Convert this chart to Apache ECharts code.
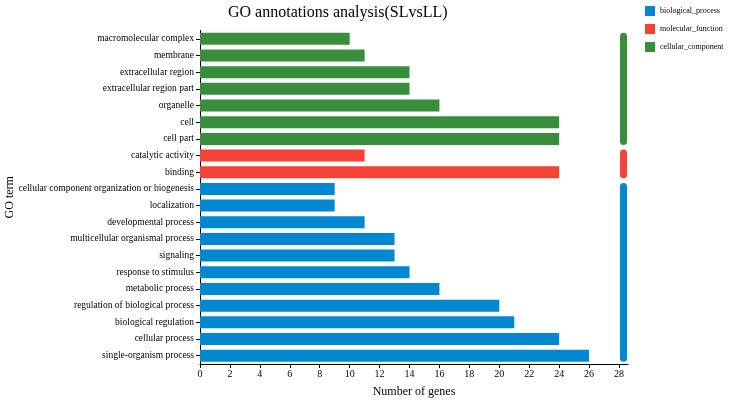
<!DOCTYPE html>
<html>
<head>
<meta charset="utf-8">
<script src="https://cdn.jsdelivr.net/npm/echarts@6/dist/echarts.min.js"></script>
<style>html,body{margin:0;padding:0;background:#fff}#c{width:729px;height:401px}</style>
</head>
<body>
<div id="c"></div>
<script>
// Categories, top to bottom
const categories = [
  'macromolecular complex', 'membrane', 'extracellular region', 'extracellular region part',
  'organelle', 'cell', 'cell part',
  'catalytic activity', 'binding',
  'cellular component organization or biogenesis', 'localization', 'developmental process',
  'multicellular organismal process', 'signaling', 'response to stimulus', 'metabolic process',
  'regulation of biological process', 'biological regulation', 'cellular process', 'single-organism process'
];
const geneCounts = [10, 11, 14, 14, 16, 24, 24, 11, 24, 9, 9, 11, 13, 13, 14, 16, 20, 21, 24, 26];
const groupNames = ['biological_process', 'molecular_function', 'cellular_component'];
const categoryGroup = [2,2,2,2,2,2,2, 1,1, 0,0,0,0,0,0,0,0,0,0,0];
const xTicks = [0, 2, 4, 6, 8, 10, 12, 14, 16, 18, 20, 22, 24, 26, 28];

const colors = ['#0288d1', '#f44336', '#388e3c'];
const FONT = 'Liberation Serif';
const GROUP_X = 28.3;
const BAR_RATIO = 0.72;

const barSeries = groupNames.map((g, gi) => ({
  name: g,
  type: 'bar',
  stack: 'all',
  barCategoryGap: '28%',
  itemStyle: { color: colors[gi] },
  data: geneCounts.map((v, i) => categoryGroup[i] === gi ? v : '-')
}));

// group ranges [groupIndex, startIdx, endIdx]
const groupRanges = groupNames.map((g, gi) => {
  const idx = categoryGroup.map((c, i) => c === gi ? i : -1).filter(i => i >= 0);
  return [gi, Math.min(...idx), Math.max(...idx)];
});

const chart = echarts.init(document.getElementById('c'));
chart.setOption({
  animation: false,
  color: colors,
  title: {
    text: 'GO annotations analysis(SLvsLL)',
    left: 223, top: 0,
    textStyle: { fontFamily: FONT, fontSize: 16, fontWeight: 'normal', color: '#000' }
  },
  legend: {
    data: groupNames,
    orient: 'vertical', left: 640, top: 1, width: 90,
    icon: 'rect', itemWidth: 10, itemHeight: 10, itemGap: 8,
    textStyle: { fontFamily: FONT, fontSize: 8, color: '#000', overflow: 'none' }
  },
  grid: { left: 200, right: 101, top: 30.5, bottom: 37, containLabel: false, outerBoundsMode: 'none' },
  xAxis: {
    type: 'value', min: 0, max: 28.6, interval: 2,
    name: 'Number of genes', nameLocation: 'middle', nameGap: 22, nameMoveOverlap: false,
    nameTextStyle: { fontFamily: FONT, fontSize: 12, color: '#000' },
    axisLine: { show: true, lineStyle: { color: '#000' } },
    axisTick: { show: true, length: 4, lineStyle: { color: '#000' } },
    axisLabel: { fontFamily: FONT, fontSize: 10, color: '#000', margin: 5, showMaxLabel: false,
      formatter: v => xTicks.includes(v) ? String(v) : '' },
    splitLine: { show: false }
  },
  yAxis: {
    type: 'category', data: categories, inverse: true,
    name: 'GO term', nameLocation: 'middle', nameGap: 184, nameMoveOverlap: false,
    nameTextStyle: { fontFamily: FONT, fontSize: 12, color: '#000' },
    axisLine: { show: true, lineStyle: { color: '#000' } },
    axisTick: { show: true, alignWithLabel: true, length: 4, lineStyle: { color: '#000' } },
    axisLabel: { fontFamily: FONT, fontSize: 9.5, color: '#000', margin: 6, interval: 0 }
  },
  series: barSeries.concat([{
    type: 'custom',
    name: 'groups',
    silent: true,
    data: groupRanges,
    encode: { x: -1, y: [1, 2] },
    renderItem: (params, api) => {
      const gi = api.value(0), s = api.value(1), e = api.value(2);
      const p1 = api.coord([GROUP_X, s]);
      const p2 = api.coord([GROUP_X, e]);
      const band = api.size([0, 1])[1];
      const h = band * BAR_RATIO;
      const top = Math.min(p1[1], p2[1]) - h / 2;
      const bottom = Math.max(p1[1], p2[1]) + h / 2;
      return {
        type: 'rect',
        shape: { x: p1[0] - 3.5, y: top, width: 7, height: bottom - top, r: 3.5 },
        style: { fill: colors[gi] }
      };
    }
  }])
});
</script>
</body>
</html>
